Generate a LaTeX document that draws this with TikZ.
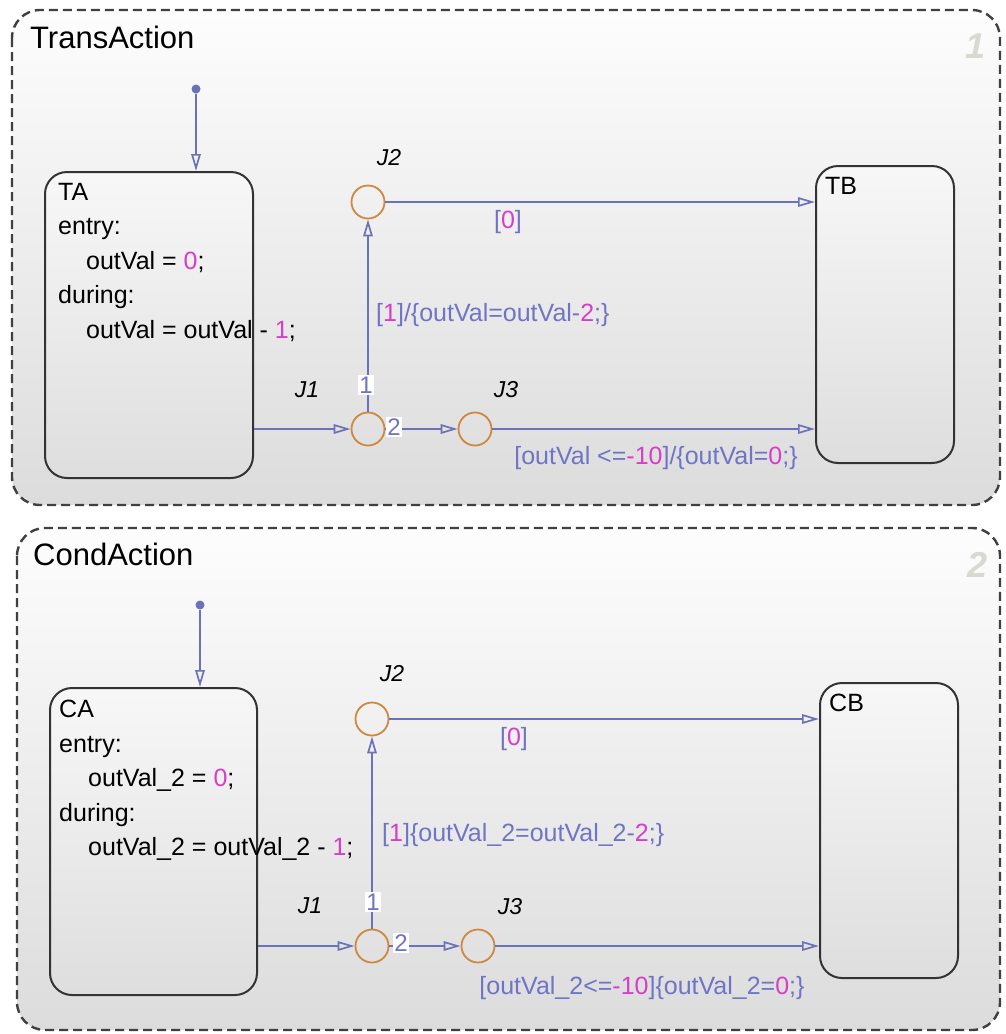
\documentclass[tikz,border=0pt]{standalone}
\usepackage{fontspec}
\setmainfont{Liberation Sans}
\usetikzlibrary{arrows.meta, positioning, calc}

\definecolor{wire}{RGB}{108,114,184}
\definecolor{guard}{RGB}{112,116,196}
\definecolor{digit}{RGB}{214,62,200}
\definecolor{junc}{RGB}{206,136,64}
\definecolor{numgray}{RGB}{218,216,210}
\definecolor{bgtop}{RGB}{253,253,253}
\definecolor{bgbot}{RGB}{220,220,220}
\newcommand{\dg}[1]{\textcolor{digit}{#1}}

\begin{document}
\begin{tikzpicture}[x=1pt, y=-1pt,
    chart/.style={draw=black!75, line width=2.4pt, dash pattern=on 9pt off 5pt,
                  rounded corners=28pt, top color=bgtop, bottom color=bgbot},
    ctitle/.style={anchor=base west, inner sep=0pt, font=\fontsize{31}{36}\selectfont},
    cnumber/.style={text=numgray, font=\fontsize{36}{40}\selectfont\bfseries\itshape},
    state/.style={draw=black!80, line width=2pt, rounded corners=22pt, anchor=north west,
                  top color=white!97!black, bottom color=black!13},
    stxt/.style={anchor=north west, align=left, inner sep=0pt,
                 font=\fontsize{25}{34.5}\selectfont},
    jn/.style={circle, draw=junc, line width=1.8pt, minimum size=33pt, inner sep=0pt},
    jlab/.style={font=\fontsize{23}{26}\selectfont\itshape},
    trans/.style={draw=wire, line width=1.7pt, -{Triangle[open, length=17pt, width=9.5pt]}},
    guardtxt/.style={text=guard, inner sep=1pt, font=\fontsize{25}{30}\selectfont},
    prio/.style={fill=white, text=guard, inner sep=1.5pt, font=\fontsize{24}{30}\selectfont},
    dot/.style={circle, fill=wire, inner sep=0pt, minimum size=9pt}
  ]
    \useasboundingbox (0,0) rectangle (1006,1034);

    % TransAction chart
    \draw[chart] (12,10) rectangle (1000,505);
    \node[ctitle] (ttitle) at (30,48) {TransAction};
    \node[cnumber] (tnum) at (976,46) {1};

    \node[state, minimum width=208pt, minimum height=306pt] (ta) at (44,171) {};
    \node[stxt, below right=12pt and 14pt of ta.north west] (tatxt)
      {TA\\entry:\\\hspace*{28pt}outVal = \dg{0};\\during:\\\hspace*{28pt}outVal = outVal - \dg{1};};
    \node[state, minimum width=138pt, minimum height=297pt] (tb) at (815,165) {};
    \node[stxt, below right=12pt and 10pt of tb.north west] (tbtxt) {TB};

    \node[dot] (tdot) at (196,89) {};
    \node[jn] (tj1) at (368,429) {};
    \node[jn] (tj2) at (368,202) {};
    \node[jn] (tj3) at (475,429) {};
    \node[jlab] at ($(tj1)+(-61,-39)$) {J1};
    \node[jlab] at ($(tj2)+(21,-44)$) {J2};
    \node[jlab] at ($(tj3)+(31,-39)$) {J3};

    \draw[trans] (tdot) -- (tdot |- ta.north);
    \draw[trans] (ta.east |- tj1) -- (tj1);
    \draw[trans] (tj1) -- (tj2);
    \draw[trans] (tj1) -- (tj3);
    \draw[trans] (tj2) -- (tj2 -| tb.west);
    \draw[trans] (tj3) -- (tj3 -| tb.west);

    \node[prio] at ($(tj1)+(-2,-44)$) {1};
    \node[prio] at ($(tj1)+(26,-2)$) {2};
    \node[guardtxt] at ($(tj2)+(140,20)$) {[\dg{0}]};
    \node[guardtxt, anchor=west] at ($(tj2)+(7,113)$) {[\dg{1}]/\{outVal=outVal-\dg{2};\}};
    \node[guardtxt] at ($(tj3)+(181,29)$) {[outVal <=\dg{-10}]/\{outVal=\dg{0};\}};

    % CondAction chart
    \draw[chart] (17,528) rectangle (1000,1030);
    \node[ctitle] (ctitle) at (33,565) {CondAction};
    \node[cnumber] (cnum) at (978,565) {2};

    \node[state, minimum width=207pt, minimum height=307pt] (ca) at (49,687) {};
    \node[stxt, below right=13pt and 10pt of ca.north west] (catxt)
      {CA\\entry:\\\hspace*{29pt}outVal\_2 = \dg{0};\\during:\\\hspace*{29pt}outVal\_2 = outVal\_2 - \dg{1};};
    \node[state, minimum width=138pt, minimum height=295pt] (cb) at (819,682) {};
    \node[stxt, below right=12pt and 10pt of cb.north west] (cbtxt) {CB};

    \node[dot] (cdot) at (200,605) {};
    \node[jn] (cj1) at (372,946) {};
    \node[jn] (cj2) at (372,719) {};
    \node[jn] (cj3) at (478,946) {};
    \node[jlab] at ($(cj1)+(-62,-40)$) {J1};
    \node[jlab] at ($(cj2)+(20,-45)$) {J2};
    \node[jlab] at ($(cj3)+(32,-39)$) {J3};

    \draw[trans] (cdot) -- (cdot |- ca.north);
    \draw[trans] (ca.east |- cj1) -- (cj1);
    \draw[trans] (cj1) -- (cj2);
    \draw[trans] (cj1) -- (cj3);
    \draw[trans] (cj2) -- (cj2 -| cb.west);
    \draw[trans] (cj3) -- (cj3 -| cb.west);

    \node[prio] at ($(cj1)+(1,-44)$) {1};
    \node[prio] at ($(cj1)+(29,-3)$) {2};
    \node[guardtxt] at ($(cj2)+(142,20)$) {[\dg{0}]};
    \node[guardtxt, anchor=west] at ($(cj2)+(9,116)$) {[\dg{1}]\{outVal\_2=outVal\_2-\dg{2};\}};
    \node[guardtxt] at ($(cj3)+(164,42)$) {[outVal\_2<=\dg{-10}]\{outVal\_2=\dg{0};\}};
\end{tikzpicture}
\end{document}
